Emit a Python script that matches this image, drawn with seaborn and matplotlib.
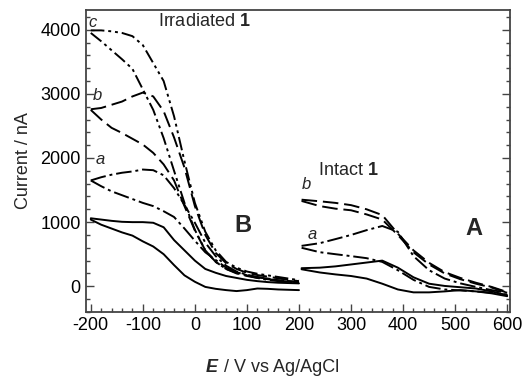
import numpy as np
import pandas as pd
import matplotlib
matplotlib.use("Agg")
import matplotlib.pyplot as plt
import seaborn as sns
from matplotlib.ticker import MultipleLocator

# --- data (potential in mV, current in nA) ---
# region B (irradiated), forward (upper) and return (lower) branches
e_left = [-200, -180, -160, -140, -120, -100, -80, -60, -40, -20, 0,
          20, 40, 60, 80, 100, 120, 140, 160, 180, 200]
b_c_hi = [3990, 3990, 3975, 3950, 3900, 3760, 3480, 3200, 2650, 1950, 1300,
          850, 560, 380, 290, 230, 195, 170, 145, 120, 95]
b_c_lo = [3950, 3820, 3680, 3540, 3390, 3070, 2750, 2310, 1800, 1300, 880,
          560, 380, 270, 210, 170, 140, 120, 100, 80, 65]
b_b_hi = [2760, 2780, 2830, 2880, 2960, 3020, 2960, 2730, 2320, 1850, 1250,
          800, 520, 360, 270, 210, 175, 150, 125, 100, 80]
b_b_lo = [2750, 2600, 2470, 2390, 2300, 2210, 2080, 1900, 1650, 1250, 870,
          560, 380, 270, 200, 160, 130, 110, 95, 80, 65]
b_a_hi = [1650, 1700, 1740, 1770, 1790, 1820, 1810, 1730, 1530, 1270, 990,
          680, 470, 320, 230, 180, 145, 115, 90, 70, 50]
b_a_lo = [1650, 1560, 1480, 1420, 1360, 1300, 1250, 1170, 1080, 900, 710,
          530, 410, 290, 220, 170, 130, 100, 80, 65, 50]
b_0_hi = [1060, 1040, 1020, 1005, 1000, 1000, 990, 920, 720, 560, 400,
          270, 210, 160, 130, 100, 80, 65, 55, 50, 45]
b_0_lo = [1040, 960, 900, 840, 790, 700, 620, 500, 330, 170, 70,
          -10, -40, -60, -75, -60, -35, -40, -50, -55, -60]

# region A (intact)
e_right = [205, 240, 270, 300, 330, 360, 390, 420, 450, 480, 510, 540, 570, 600]
a_b_hi = [1350, 1325, 1300, 1265, 1200, 1110, 820, 560, 365, 220, 130, 55, -10, -90]
a_b_lo = [1330, 1250, 1210, 1185, 1120, 1040, 800, 530, 340, 200, 110, 40, -20, -100]
a_a_hi = [630, 672, 735, 800, 875, 940, 850, 470, 250, 120, 45, -10, -60, -100]
a_a_lo = [600, 531, 500, 470, 438, 380, 250, 100, -10, -50, -65, -80, -100, -130]
a_0_hi = [282, 290, 310, 340, 370, 400, 290, 140, 40, 5, -15, -35, -80, -140]
a_0_lo = [265, 215, 185, 160, 120, 40, -50, -95, -95, -80, -60, -80, -110, -155]

styles = {
    "c": (0, (7, 2, 1.5, 2, 1.5, 2)),
    "b": (0, (8, 3)),
    "a": (0, (8, 2, 1.5, 2)),
    "0": "-",
}

curves = [
    (e_left, b_c_hi, "c"), (e_left, b_c_lo, "c"),
    (e_left, b_b_hi, "b"), (e_left, b_b_lo, "b"),
    (e_left, b_a_hi, "a"), (e_left, b_a_lo, "a"),
    (e_left, b_0_hi, "0"), (e_left, b_0_lo, "0"),
    (e_right, a_b_hi, "b"), (e_right, a_b_lo, "b"),
    (e_right, a_a_hi, "a"), (e_right, a_a_lo, "a"),
    (e_right, a_0_hi, "0"), (e_right, a_0_lo, "0"),
]

sns.set_style("white")
plt.rcParams["font.family"] = ["Liberation Sans", "DejaVu Sans"]
plt.rcParams["axes.unicode_minus"] = False
plt.rcParams["mathtext.fontset"] = "custom"
plt.rcParams["mathtext.rm"] = "Liberation Sans"
plt.rcParams["mathtext.bf"] = "Liberation Sans:bold"
plt.rcParams["mathtext.it"] = "Liberation Sans:italic"

fig = plt.figure(figsize=(5.25, 3.79), dpi=100)
ax = fig.add_axes([0.163, 0.177, 0.808, 0.797])

for xs, ys, key in curves:
    df = pd.DataFrame({"E": xs, "I": ys})
    sns.lineplot(data=df, x="E", y="I", sort=False, estimator=None,
                 color="black", linewidth=1.4, linestyle=styles[key], ax=ax)

ax.set_xlim(-210, 605)
ax.set_ylim(-400, 4310)
ax.xaxis.set_major_locator(MultipleLocator(100))
ax.xaxis.set_minor_locator(MultipleLocator(20))
ax.yaxis.set_major_locator(MultipleLocator(1000))
ax.yaxis.set_minor_locator(MultipleLocator(200))
ax.tick_params(which="both", direction="in", left=True, bottom=True, right=True,
               top=False, labelsize=13, color="#444444", labelcolor="black")
ax.tick_params(which="major", length=6, width=1)
ax.tick_params(which="minor", length=3, width=1)
for sp in ax.spines.values():
    sp.set_color("#444444")
    sp.set_linewidth(1.3)

ax.set_xlabel("")
ax.set_ylabel("Current / nA", fontsize=13, labelpad=6)

fig.text(206 / 525, 1 - 368 / 379, "E", fontsize=13, fontweight="bold",
         fontstyle="italic", ha="left", va="center")
fig.text(219 / 525, 1 - 368 / 379, " / V vs Ag/AgCl", fontsize=13,
         ha="left", va="center")

ax.text(-70, 4130, r"Irradiated $\mathbf{1}$", fontsize=13, ha="left", va="center")
ax.text(236, 1810, r"Intact $\mathbf{1}$", fontsize=13, ha="left", va="center")
ax.text(93, 950, "B", fontsize=17, fontweight="bold", ha="center", va="center")
ax.text(537, 905, "A", fontsize=17, fontweight="bold", ha="center", va="center")
for x, y, s in [(-197, 4120, "c"), (-187, 2980, "b"), (-182, 1970, "a"),
                (214, 1580, "b"), (225, 810, "a")]:
    ax.text(x, y, s, fontsize=12, fontstyle="italic", ha="center", va="center")

fig.savefig("out.png", dpi=100)
